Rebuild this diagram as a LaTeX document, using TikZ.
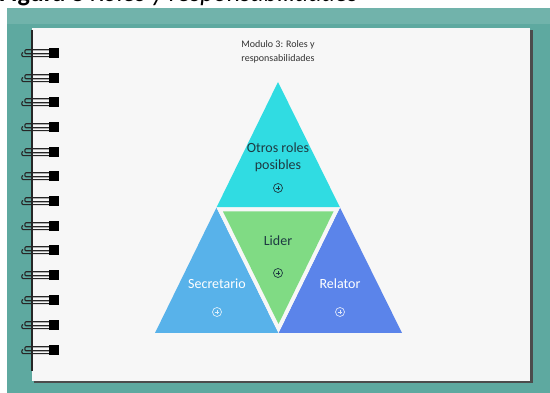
\documentclass[tikz,border=0pt]{standalone}
\usepackage{fontspec}
\setmainfont{Carlito}
\definecolor{teal1}{HTML}{5EA9A0}
\definecolor{pagec}{HTML}{F7F7F7}
\definecolor{cyanT}{HTML}{30DCE2}
\definecolor{blueL}{HTML}{58B2EA}
\definecolor{blueR}{HTML}{5B84EA}
\definecolor{greenT}{HTML}{80DB84}
\definecolor{darktxt}{HTML}{1E3A42}
\tikzset{
  lbl/.style={font=\fontsize{14}{17}\selectfont, align=center, inner sep=0pt},
  pluscirc/.style={circle, draw, line width=0.7pt, minimum size=9pt, inner sep=0pt},
}
\newcommand{\ringat}[1]{%
  \draw[line width=1.1pt, black!85] (50,#1-3.2) -- (26,#1-3.2) to[out=180,in=180] (26,#1+0.8) -- (50,#1+0.8);
  \draw[line width=1.1pt, black!85] (50,#1+3.6) -- (23,#1+3.6) to[out=180,in=180] (23,#1-0.5);
  \fill[black] (48.5,#1-5) rectangle (59,#1+5);
}
\newcommand{\plusin}[2]{%
  \draw[line width=0.7pt, #2] ([xshift=-2.4pt]#1.center) -- ([xshift=2.4pt]#1.center);
  \draw[line width=0.7pt, #2] ([yshift=-2.4pt]#1.center) -- ([yshift=2.4pt]#1.center);
}
\begin{document}
\begin{tikzpicture}[x=1pt,y=-1pt]
\useasboundingbox (0,0) rectangle (550,393);
\clip (0,0) rectangle (550,393);
\fill[white] (0,0) rectangle (550,393);
% caption (cut at top, as in the reference)
\node[anchor=base west, inner sep=0pt, font=\fontsize{26}{30}\selectfont] (cap) at (-1,1.5)
  {\textbf{Figura 8} \textit{Roles y responsabilidades}};
% teal background
\fill[teal1] (7,8) rectangle (550,393);
\fill[teal1!88!white] (7,8) rectangle (550,24);
% page shadow and page
\fill[black!70] (34,30) rectangle (532.5,383);
\fill[pagec] (32,28) rectangle (530,381);
\draw[line width=2pt, black!85] (31.5,30) -- (31.5,371);
% rings
\foreach \yy in {53,78,102,127,152,176,201,226,250,275,300,325,350} {\ringat{\yy}}
% title
\node[font=\fontsize{10}{14}\selectfont, align=center, text=black!80] (title) at (278,52)
  {Modulo 3: Roles y\\responsabilidades};
% triangles
\coordinate (A) at (278,82);
\coordinate (BL) at (155,333);
\coordinate (BR) at (402,333);
\coordinate (ML) at (216.5,207.5);
\coordinate (MR) at (340,207.5);
\coordinate (MB) at (278.5,333);
\fill[cyanT] (A) -- (ML) -- (MR) -- cycle;
\fill[blueL] (ML) -- (BL) -- (MB) -- cycle;
\fill[blueR] (MR) -- (MB) -- (BR) -- cycle;
\fill[pagec] (ML) -- (MR) -- (MB) -- cycle;
\fill[greenT] (223,211.5) -- (333.5,211.5) -- (278.5,324) -- cycle;
% labels
\node[lbl, text=darktxt] (otros) at (278,157) {Otros roles\\posibles};
\node[pluscirc, draw=darktxt] (p1) at (278,188) {};
\plusin{p1}{darktxt}
\node[lbl, text=darktxt] (lider) at (278,241) {Lider};
\node[pluscirc, draw=darktxt] (p2) at (278,273) {};
\plusin{p2}{darktxt}
\node[lbl, text=white] (sec) at (217,284) {Secretario};
\node[pluscirc, draw=white!80!blueL] (p3) at (217,312) {};
\plusin{p3}{white!80!blueL}
\node[lbl, text=white] (rel) at (340,284) {Relator};
\node[pluscirc, draw=white!80!blueR] (p4) at (340,312) {};
\plusin{p4}{white!80!blueR}
\end{tikzpicture}
\end{document}
